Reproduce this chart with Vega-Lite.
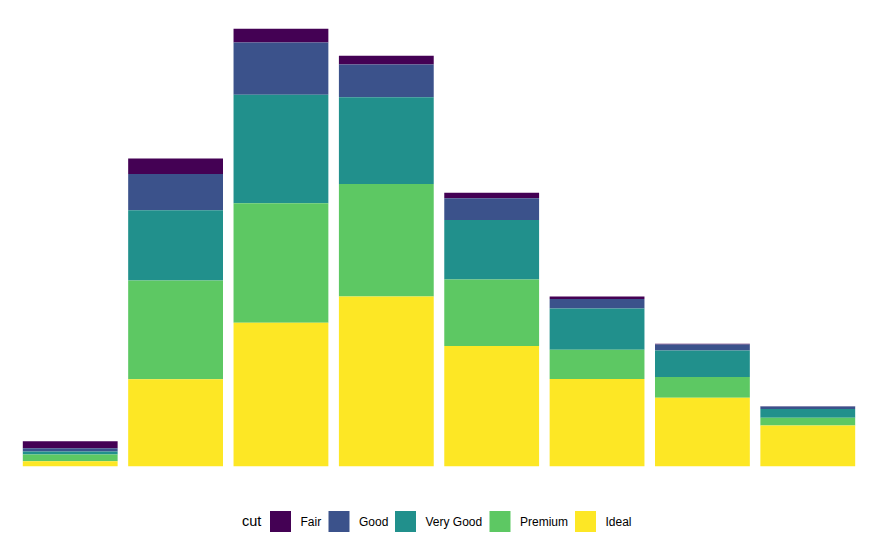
{
  "$schema": "https://vega.github.io/schema/vega-lite/v6.json",
  "width": 864,
  "height": 481,
  "autosize": {"type": "none"},
  "padding": {"left": 7, "top": 7, "right": 8, "bottom": 60},
  "background": "white",
  "config": {"view": {"stroke": null}, "font": "Liberation Sans", "legend": {"titleFontWeight": "normal"}},
  "data": {"values": [
    {"clarity":"I1","cut":"Fair","level":1,"count":210},
    {"clarity":"I1","cut":"Good","level":2,"count":96},
    {"clarity":"I1","cut":"Very Good","level":3,"count":84},
    {"clarity":"I1","cut":"Premium","level":4,"count":205},
    {"clarity":"I1","cut":"Ideal","level":5,"count":146},
    {"clarity":"SI2","cut":"Fair","level":1,"count":466},
    {"clarity":"SI2","cut":"Good","level":2,"count":1081},
    {"clarity":"SI2","cut":"Very Good","level":3,"count":2100},
    {"clarity":"SI2","cut":"Premium","level":4,"count":2949},
    {"clarity":"SI2","cut":"Ideal","level":5,"count":2598},
    {"clarity":"SI1","cut":"Fair","level":1,"count":408},
    {"clarity":"SI1","cut":"Good","level":2,"count":1560},
    {"clarity":"SI1","cut":"Very Good","level":3,"count":3240},
    {"clarity":"SI1","cut":"Premium","level":4,"count":3575},
    {"clarity":"SI1","cut":"Ideal","level":5,"count":4282},
    {"clarity":"VS2","cut":"Fair","level":1,"count":261},
    {"clarity":"VS2","cut":"Good","level":2,"count":978},
    {"clarity":"VS2","cut":"Very Good","level":3,"count":2591},
    {"clarity":"VS2","cut":"Premium","level":4,"count":3357},
    {"clarity":"VS2","cut":"Ideal","level":5,"count":5071},
    {"clarity":"VS1","cut":"Fair","level":1,"count":170},
    {"clarity":"VS1","cut":"Good","level":2,"count":648},
    {"clarity":"VS1","cut":"Very Good","level":3,"count":1775},
    {"clarity":"VS1","cut":"Premium","level":4,"count":1989},
    {"clarity":"VS1","cut":"Ideal","level":5,"count":3589},
    {"clarity":"VVS2","cut":"Fair","level":1,"count":69},
    {"clarity":"VVS2","cut":"Good","level":2,"count":286},
    {"clarity":"VVS2","cut":"Very Good","level":3,"count":1235},
    {"clarity":"VVS2","cut":"Premium","level":4,"count":870},
    {"clarity":"VVS2","cut":"Ideal","level":5,"count":2606},
    {"clarity":"VVS1","cut":"Fair","level":1,"count":17},
    {"clarity":"VVS1","cut":"Good","level":2,"count":186},
    {"clarity":"VVS1","cut":"Very Good","level":3,"count":789},
    {"clarity":"VVS1","cut":"Premium","level":4,"count":616},
    {"clarity":"VVS1","cut":"Ideal","level":5,"count":2047},
    {"clarity":"IF","cut":"Fair","level":1,"count":9},
    {"clarity":"IF","cut":"Good","level":2,"count":71},
    {"clarity":"IF","cut":"Very Good","level":3,"count":268},
    {"clarity":"IF","cut":"Premium","level":4,"count":230},
    {"clarity":"IF","cut":"Ideal","level":5,"count":1212}
  ]},
  "mark": {"type": "bar"},
  "encoding": {
    "x": {
      "field": "clarity", "type": "nominal",
      "sort": ["I1","SI2","SI1","VS2","VS1","VVS2","VVS1","IF"],
      "scale": {"paddingInner": 0.1, "paddingOuter": 0.15},
      "axis": null
    },
    "y": {
      "field": "count", "type": "quantitative", "aggregate": "sum", "stack": "zero",
      "scale": {"domain": [-653.25, 13718.25], "nice": false, "zero": false},
      "axis": null
    },
    "order": {"field": "level", "type": "quantitative", "sort": "descending"},
    "color": {
      "field": "cut", "type": "nominal",
      "scale": {
        "domain": ["Fair","Good","Very Good","Premium","Ideal"],
        "range": ["#440154","#3B528B","#21908C","#5DC863","#FDE725"]
      },
      "legend": {
        "orient": "none",
        "direction": "horizontal",
        "legendX": 235,
        "legendY": 504,
        "title": "cut",
        "titleOrient": "left",
        "titleFontSize": 14.5,
        "titleFontWeight": "normal",
        "titleColor": "black",
        "titleAnchor": "middle",
        "titleBaseline": "middle",
        "titlePadding": 8,
        "symbolType": "square",
        "symbolSize": 441,
        "symbolStrokeWidth": 0,
        "symbolOpacity": 1,
        "labelFontSize": 12,
        "labelColor": "black",
        "labelOffset": 9.5,
        "columnPadding": 6.5
      }
    }
  }
}
